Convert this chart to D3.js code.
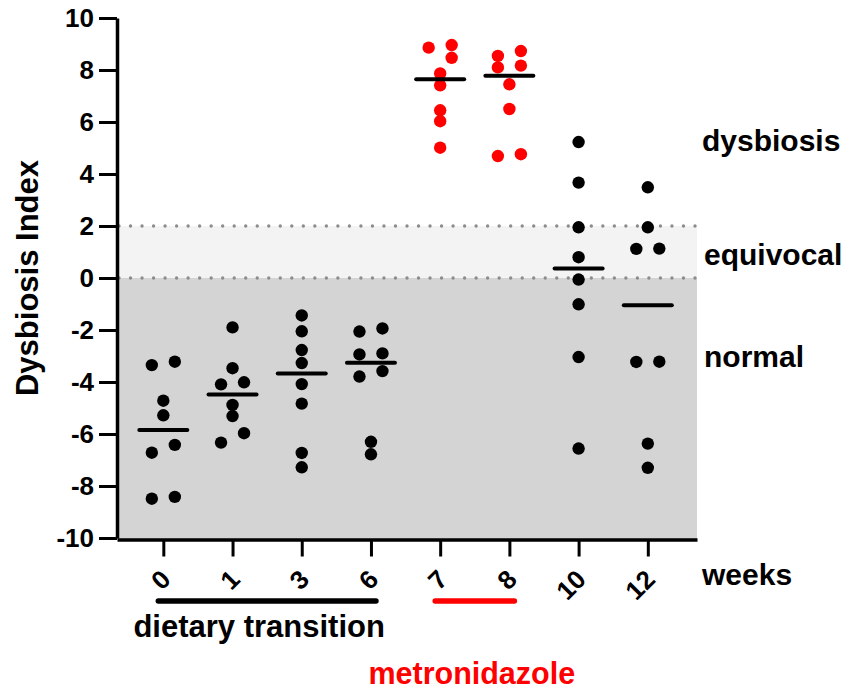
<!DOCTYPE html>
<html><head><meta charset="utf-8">
<script src="https://cdn.jsdelivr.net/npm/d3@7"></script>
<style>
body{margin:0;background:#fff}
text{font-family:"Liberation Sans",Arial,Helvetica,sans-serif;font-weight:bold}
</style>
</head><body>
<svg id="chart" width="848" height="692"></svg>
<script>
// ---- data ----
const weeks = ["0","1","3","6","7","8","10","12"];
const wk0  = [-3.35,-3.22,-4.72,-5.28,-6.72,-6.42,-8.49,-8.42];
const wk1  = [-1.90,-3.47,-4.09,-4.01,-4.88,-5.31,-6.33,-5.97];
const wk3  = [-1.44,-2.05,-2.77,-3.27,-4.08,-4.83,-6.73,-7.28];
const wk6  = [-2.06,-1.94,-2.94,-2.90,-3.79,-3.58,-6.30,-6.78];
const wk7  = [8.86,8.96,8.47,7.87,7.41,6.45,6.03,5.01];
const wk8  = [8.10,8.54,8.73,8.17,7.45,6.50,4.69,4.76];
const wk10 = [5.23,3.67,1.95,0.80,-0.06,-1.01,-3.04,-6.56];
const wk12 = [3.49,1.95,1.12,1.13,-3.23,-3.22,-6.37,-7.30];
const groupValues = [wk0,wk1,wk3,wk6,wk7,wk8,wk10,wk12];
const metronidazoleWeeks = ["7","8"];
const yTicks = [-10,-8,-6,-4,-2,0,2,4,6,8,10];
const zoneNames = ["dysbiosis","equivocal","normal"];
const equivocalRange = [0,2];
const periodNames = ["dietary transition","metronidazole"];
const periodStart = ["0","7"];
const periodEnd = ["6","8"];

// ---- drawing ----
const svg = d3.select("#chart");
const y = d3.scaleLinear().domain([-10,10]).range([538,18]);
const x = d3.scalePoint().domain(weeks).range([117,697]).padding(0.69).align(0.485);
const RED = "#ff0000";

// background zones
svg.append("rect").attr("x",117).attr("width",580)
  .attr("y",y(equivocalRange[0])).attr("height",y(-10)-y(equivocalRange[0])+1.5).attr("fill","#d4d4d4");
svg.append("rect").attr("x",117).attr("width",580)
  .attr("y",y(equivocalRange[1])).attr("height",y(equivocalRange[0])-y(equivocalRange[1])).attr("fill","#f3f3f3");
equivocalRange.forEach(v=>{
  svg.append("line").attr("x1",119).attr("x2",697).attr("y1",y(v)).attr("y2",y(v))
    .attr("stroke","#8c8c8c").attr("stroke-width",3.4).attr("stroke-linecap","round")
    .attr("stroke-dasharray","0,11.52");
});

// jitter: cluster close values, spread side by side
const DOT_R = 6.2, GAP = 10.8, OFF = 11.5;
const points = [];
groupValues.forEach((vals,gi)=>{
  const sorted = vals.slice().sort((a,b)=>b-a);
  const clusters = [];
  sorted.forEach((v,i)=>{
    if(i>0 && (y(v)-y(sorted[i-1]))<GAP) clusters[clusters.length-1].push(v);
    else clusters.push([v]);
  });
  clusters.forEach(c=>{
    c.forEach((v,i)=>{
      const off = c.length===1 ? 0 : (i%2===0 ? OFF : -OFF);
      points.push({week:weeks[gi], v, off});
    });
  });
});

svg.append("g").selectAll("circle").data(points).join("circle")
  .attr("cx",d=>x(d.week)+d.off).attr("cy",d=>y(d.v)).attr("r",DOT_R)
  .attr("fill",d=>metronidazoleWeeks.includes(d.week)?RED:"#000");

// median lines
svg.append("g").selectAll("line").data(weeks).join("line")
  .attr("x1",w=>x(w)-24).attr("x2",w=>x(w)+24)
  .attr("y1",(w,i)=>y(d3.median(groupValues[i]))).attr("y2",(w,i)=>y(d3.median(groupValues[i])))
  .attr("stroke","#000").attr("stroke-width",4).attr("stroke-linecap","round");

// y axis
const gy = svg.append("g").attr("transform","translate(117,0)")
  .call(d3.axisLeft(y).tickValues(yTicks).tickSize(18).tickSizeOuter(0).tickPadding(5)
    .tickFormat(d=>String(d)));
gy.select(".domain").attr("stroke-width",3.5);
gy.selectAll(".tick line").attr("stroke-width",3);
gy.selectAll(".tick text").attr("font-size",26).attr("font-weight","bold").attr("fill","#000")
  .attr("font-family","Liberation Sans, Arial, sans-serif");

// x axis
const gx = svg.append("g").attr("transform","translate(0,539.5)")
  .call(d3.axisBottom(x).tickSize(17).tickSizeOuter(0).tickFormat(""));
gx.select(".domain").attr("stroke-width",3.5);
gx.selectAll(".tick line").attr("stroke-width",3);
svg.append("g").selectAll("text").data(weeks).join("text")
  .attr("transform",w=>`translate(${x(w)+9},581) rotate(-45)`)
  .attr("text-anchor","end").attr("font-size",26).text(w=>w);

// y title
svg.append("text").attr("transform","translate(38,278) rotate(-90)")
  .attr("text-anchor","middle").attr("font-size",31).text("Dysbiosis Index");

// zone labels
const zoneY = [151,265,367];
const zoneX = [702,704,704];
svg.append("g").selectAll("text").data(zoneNames).join("text")
  .attr("x",(d,i)=>zoneX[i]).attr("y",(d,i)=>zoneY[i]).attr("font-size",30).text(d=>d);
svg.append("text").attr("x",702).attr("y",585).attr("font-size",30).text("weeks");

// period bars and labels
const barColors = ["#000",RED];
periodNames.forEach((p,i)=>{
  svg.append("line").attr("x1",x(periodStart[i])-5).attr("x2",x(periodEnd[i])+5)
    .attr("y1",601).attr("y2",601).attr("stroke",barColors[i]).attr("stroke-width",5.5)
    .attr("stroke-linecap","round");
});
svg.append("text").attr("x",(x(periodStart[0])+x(periodEnd[0]))/2-8).attr("y",637)
  .attr("text-anchor","middle").attr("font-size",31).text(periodNames[0]);
svg.append("text").attr("x",(x(periodStart[1])+x(periodEnd[1]))/2-3).attr("y",684)
  .attr("text-anchor","middle").attr("font-size",30.5).attr("fill",RED).text(periodNames[1]);
</script>
</body></html>
